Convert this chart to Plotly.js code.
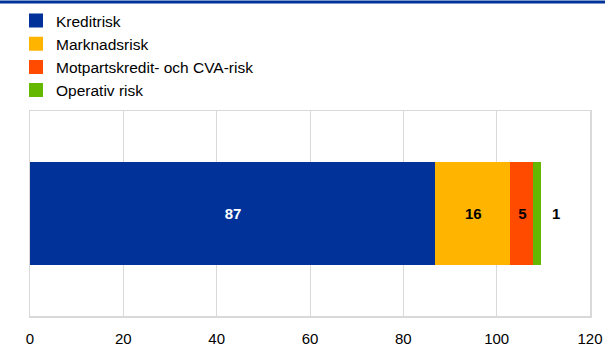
<!DOCTYPE html>
<html>
<head>
<meta charset="utf-8">
<script src="https://cdn.plot.ly/plotly-3.0.1.min.js"></script>
<style>
html,body{margin:0;padding:0;background:#fff;}
#chart{width:605px;height:358px;}
</style>
</head>
<body>
<div id="chart"></div>
<script>
var categories = ['Total'];
var seriesNames = ['Kreditrisk', 'Marknadsrisk', 'Motpartskredit- och CVA-risk', 'Operativ risk'];
var kreditrisk = [87];
var marknadsrisk = [16];
var motpartsrisk = [5];
var operativRisk = [1.3];
var operativLabel = ['1'];
var xTickVals = [0, 20, 40, 60, 80, 100, 120];

var colors = ['#003299', '#ffb400', '#ff4b00', '#65b800'];
var labelColors = ['#ffffff', '#000000', '#000000', '#000000'];
var seriesValues = [kreditrisk, marknadsrisk, motpartsrisk, operativRisk];

var FONT = 'Arial, "Liberation Sans", sans-serif';

var traces = seriesValues.map(function (vals, i) {
  return {
    type: 'bar',
    orientation: 'h',
    name: seriesNames[i],
    y: categories,
    x: vals,
    width: 0.49,
    marker: {color: colors[i], line: {width: 2, color: colors[i]}},
    text: i === 3 ? null : vals.map(function (v) { return String(Math.round(v)); }),
    textposition: i === 3 ? 'none' : 'inside',
    insidetextanchor: 'middle',
    constraintext: 'none',
    textfont: {family: FONT, size: 15, color: labelColors[i], weight: 'bold'},
    hoverinfo: 'x+name'
  };
});

var totals = categories.map(function (c, j) {
  return seriesValues.reduce(function (s, arr) { return s + arr[j]; }, 0);
});

var annotations = categories.map(function (c, j) {
  return {
    x: totals[j], y: c, xref: 'x', yref: 'y',
    text: operativLabel[j], showarrow: false,
    xanchor: 'left', xshift: 10,
    font: {family: FONT, size: 15, color: '#000', weight: 'bold'}
  };
});

var layout = {
  width: 605, height: 358,
  margin: {l: 30, r: 15, t: 111, b: 42, pad: 0, autoexpand: false},
  paper_bgcolor: '#fff', plot_bgcolor: '#fff',
  barmode: 'stack',
  showlegend: true,
  legend: {
    x: 16 / 605, xref: 'container', xanchor: 'left',
    y: 1 - 4 / 358, yref: 'container', yanchor: 'top',
    traceorder: 'normal',
    font: {family: FONT, size: 15.5, color: '#000'},
    bgcolor: 'rgba(0,0,0,0)'
  },
  xaxis: {
    range: [0, 120], tickvals: xTickVals, ticktext: xTickVals.map(String),
    showgrid: true, gridcolor: '#d9d9d9', gridwidth: 1,
    showline: true, mirror: true, linecolor: '#d9d9d9', linewidth: 1.5,
    zeroline: false, ticks: '', ticklen: 0, ticklabelstandoff: 8,
    tickfont: {family: FONT, size: 15, color: '#000'},
    fixedrange: true
  },
  yaxis: {
    showticklabels: false, showgrid: false,
    showline: true, mirror: true, linecolor: '#d9d9d9', linewidth: 1.5,
    zeroline: false, ticks: '', fixedrange: true
  },
  annotations: annotations,
  shapes: [{
    type: 'line', xref: 'paper', yref: 'paper',
    x0: -30 / 560, x1: 1 + 15 / 560, y0: 314 / 205, y1: 314 / 205,
    line: {color: '#003299', width: 3}
  }]
};

Plotly.newPlot('chart', traces, layout, {displayModeBar: false, staticPlot: true});
</script>
</body>
</html>
